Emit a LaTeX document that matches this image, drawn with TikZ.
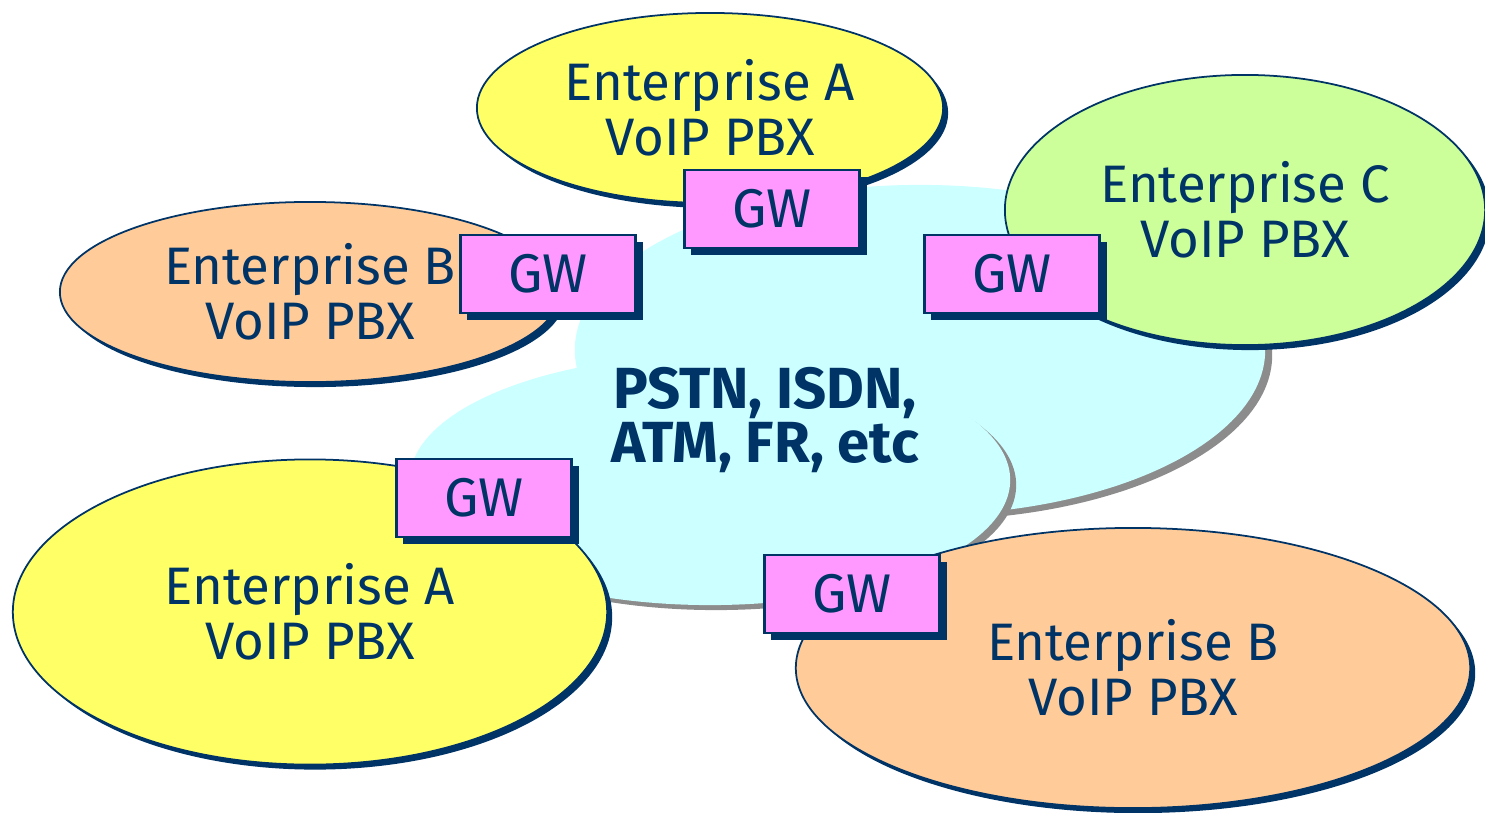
\documentclass[tikz,border=0pt]{standalone}
\usepackage{fontspec}
\setmainfont{Fira Sans}
\usetikzlibrary{shapes.geometric}
\usetikzlibrary{shadows}

\definecolor{navy}{HTML}{003366}
\definecolor{pbxyellow}{HTML}{FFFF66}
\definecolor{pbxgreen}{HTML}{CCFF99}
\definecolor{pbxpeach}{HTML}{FFCC99}
\definecolor{gwpink}{HTML}{FF99FF}
\definecolor{netcyan}{HTML}{CCFFFF}
\definecolor{netshadow}{HTML}{8C8C8C}

\tikzset{
  pbx/.style={ellipse, draw=navy, line width=0.5pt, text=navy, align=center, inner sep=0pt,
    font=\fontsize{15}{15.6}\selectfont,
    drop shadow={shadow xshift=0.05cm, shadow yshift=-0.05cm, fill=navy, opacity=1}},
  gw/.style={rectangle, draw=navy, line width=0.8pt, fill=gwpink, text=navy,
    minimum width=1.75cm, minimum height=0.78cm, inner sep=0pt,
    font=\fontsize{15.5}{16}\selectfont,
    drop shadow={shadow xshift=0.07cm, shadow yshift=-0.07cm, fill=navy, opacity=1}}
}

\begin{document}
\begin{tikzpicture}[x=0.01cm, y=-0.01cm]
            \useasboundingbox (0,0) rectangle (1485,812);

            % cloud
            \fill[netshadow] (927,355) ellipse [x radius=3.45cm, y radius=1.65cm];
            \fill[netcyan] (920,350) ellipse [x radius=3.45cm, y radius=1.65cm];
            \fill[netshadow] (716,485) ellipse [x radius=3.0cm, y radius=1.25cm];
            \fill[netcyan] (710,480) ellipse [x radius=3.0cm, y radius=1.25cm];
            \node[text=navy, align=center, font=\fontsize{16.5}{15.6}\selectfont\bfseries] (net) at (765,420) {PSTN, ISDN,\\ATM, FR, etc};

            % enterprises
            \node[pbx, fill=pbxyellow, minimum width=4.66cm, minimum height=1.9cm] (entAtop) at (710,108) {Enterprise A\\VoIP PBX};
            \node[pbx, fill=pbxgreen, minimum width=4.8cm, minimum height=2.7cm] (entC) at (1245,210) {Enterprise C\\VoIP PBX};
            \node[pbx, fill=pbxpeach, minimum width=5.0cm, minimum height=1.8cm] (entBleft) at (310,292) {Enterprise B\\VoIP PBX};
            \node[pbx, fill=pbxyellow, minimum width=5.94cm, minimum height=3.05cm] (entAbot) at (310,612) {Enterprise A\\VoIP PBX};
            \node[pbx, fill=pbxpeach, minimum width=6.74cm, minimum height=2.8cm] (entBbot) at (1133,668) {Enterprise B\\VoIP PBX};

            % gateways
            \node[gw] (gwAtop) at (772,209) {GW};
            \node[gw] (gwBleft) at (548,274) {GW};
            \node[gw] (gwC) at (1012,274) {GW};
            \node[gw] (gwAbot) at (484,498) {GW};
            \node[gw] (gwBbot) at (852,594) {GW};
        \end{tikzpicture}
\end{document}
